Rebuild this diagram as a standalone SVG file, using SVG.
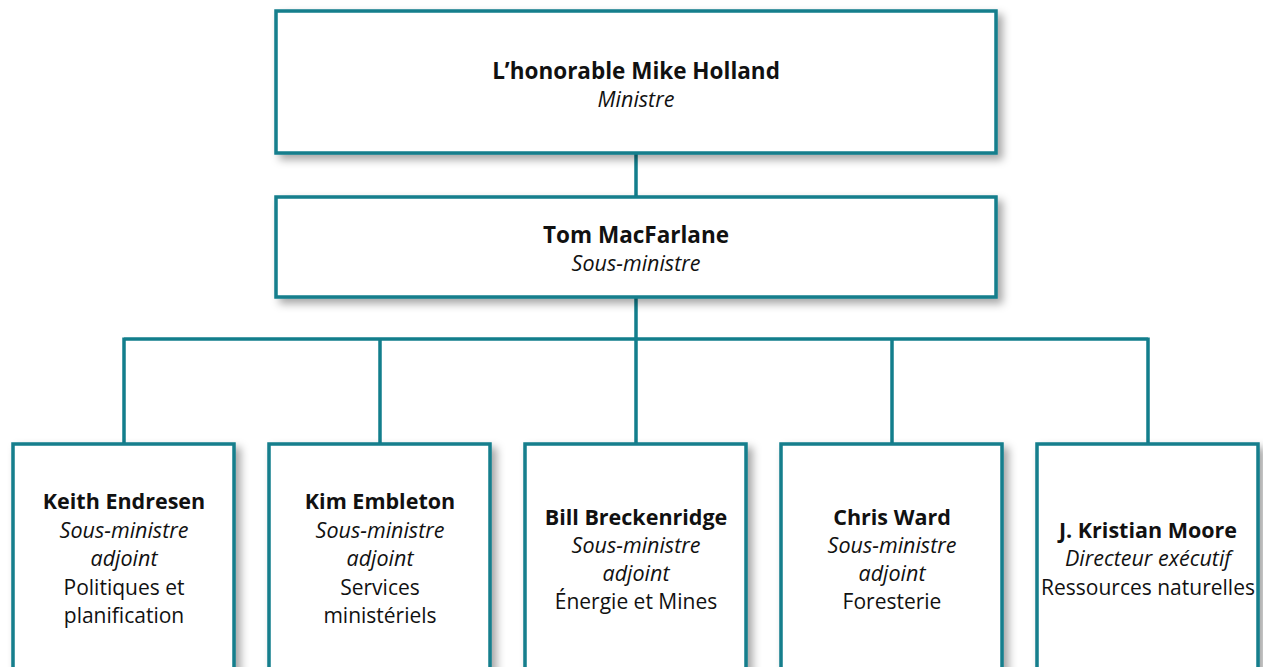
<svg xmlns="http://www.w3.org/2000/svg" width="1263" height="667" viewBox="0 0 1263 667">
<defs>
<filter id="sh" x="-10%" y="-10%" width="130%" height="130%">
<feDropShadow dx="5" dy="5" stdDeviation="4" flood-color="#000" flood-opacity="0.35"/>
</filter>
<style>
.box{fill:#fff;stroke:#127E8C;stroke-width:3.5;filter:url(#sh)}
.conn{fill:none;stroke:#127E8C;stroke-width:3.5}
text{font-family:"Open Sans","Noto Sans","Liberation Sans",sans-serif;fill:#111;text-anchor:middle}
.b{font-weight:bold;font-size:21.5px}
.i{font-style:italic;font-size:21.5px}
.r{font-size:21px}
.bt{font-weight:bold;font-size:22.5px}
</style>
</defs>
<rect width="1263" height="667" fill="#fff"/>
<g id="connectors">
<path class="conn" d="M636 153V197M636 297V339M124 339H1148M124 337.5V444M380 337.5V444M636 337.5V444M892 337.5V444M1148 337.5V444"/>
</g>
<g id="minister">
<rect class="box" x="276" y="11" width="720" height="142"/>
<text class="bt" x="636" y="79">L’honorable Mike Holland</text>
<text class="i" x="636" y="107">Ministre</text>
</g>
<g id="deputy">
<rect class="box" x="276" y="197" width="720" height="100"/>
<text class="bt" x="636" y="243">Tom MacFarlane</text>
<text class="i" x="636" y="271">Sous-ministre</text>
</g>
<g id="endresen">
<rect class="box" x="13" y="444" width="221" height="240"/>
<text class="b" x="124" y="509">Keith Endresen</text>
<text class="i" x="124" y="538">Sous-ministre</text>
<text class="i" x="124" y="566">adjoint</text>
<text class="r" x="124" y="595">Politiques et</text>
<text class="r" x="124" y="623">planification</text>
</g>
<g id="embleton">
<rect class="box" x="269" y="444" width="221" height="240"/>
<text class="b" x="380" y="509">Kim Embleton</text>
<text class="i" x="380" y="538">Sous-ministre</text>
<text class="i" x="380" y="566">adjoint</text>
<text class="r" x="380" y="595">Services</text>
<text class="r" x="380" y="623">ministériels</text>
</g>
<g id="breckenridge">
<rect class="box" x="525" y="444" width="221" height="240"/>
<text class="b" x="636" y="525">Bill Breckenridge</text>
<text class="i" x="636" y="553">Sous-ministre</text>
<text class="i" x="636" y="581">adjoint</text>
<text class="r" x="636" y="609">Énergie et Mines</text>
</g>
<g id="ward">
<rect class="box" x="781" y="444" width="221" height="240"/>
<text class="b" x="892" y="525">Chris Ward</text>
<text class="i" x="892" y="553">Sous-ministre</text>
<text class="i" x="892" y="581">adjoint</text>
<text class="r" x="892" y="609">Foresterie</text>
</g>
<g id="moore">
<rect class="box" x="1037" y="444" width="221" height="240"/>
<text class="b" x="1148" y="538">J. Kristian Moore</text>
<text class="i" x="1148" y="566">Directeur exécutif</text>
<text class="r" x="1148" y="595">Ressources naturelles</text>
</g>
</svg>
